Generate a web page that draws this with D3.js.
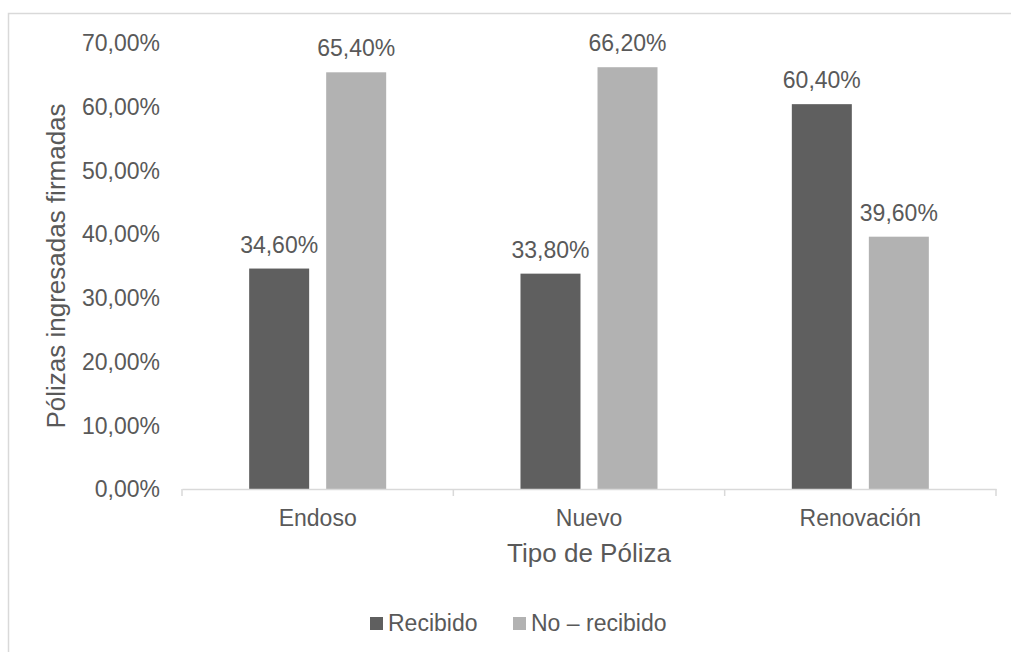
<!DOCTYPE html>
<html>
<head>
<meta charset="utf-8">
<script src="https://cdn.jsdelivr.net/npm/d3@7"></script>
<style>
  body { margin: 0; background: #fff; }
  text { font-family: "Liberation Sans", Arial, sans-serif; fill: #595959; }
</style>
</head>
<body>
<div id="content"></div>
<script>
var width = 1011;
var height = 652;

var categories = ["Endoso", "Nuevo", "Renovación"];
var seriesNames = ["Recibido", "No – recibido"];
var recibido = [34.6, 33.8, 60.4];
var noRecibido = [65.4, 66.2, 39.6];
var yTicks = [0, 10, 20, 30, 40, 50, 60, 70];

var colors = ["#5f5f5f", "#b2b2b2"];

var margin = { top: 43, left: 182, right: 15, bottom: 163 };
var plotW = width - margin.left - margin.right;
var plotH = height - margin.top - margin.bottom;

var svg = d3.select("#content").append("svg").attr("width", width).attr("height", height);

// outer chart border (cut off at right and bottom)
svg.append("rect")
    .attr("x", 8.5).attr("y", 13.5)
    .attr("width", 1100).attr("height", 700)
    .attr("fill", "none")
    .attr("stroke", "#d9d9d9")
    .attr("stroke-width", 1.5);

var g = svg.append("g").attr("transform", `translate(${margin.left}, ${margin.top})`);

var x0 = d3.scaleBand().domain(categories).range([0, plotW]).paddingInner(0).paddingOuter(0);
var x1 = d3.scaleBand().domain(seriesNames).range([0, x0.bandwidth()]).paddingInner(0.221).paddingOuter(0.872);
var y = d3.scaleLinear().domain([0, 70]).range([plotH, 0]);

var fmt = function (d) { return d.toFixed(2).replace(".", ",") + "%"; };

// y tick labels (no axis line)
g.selectAll(".ytick")
    .data(yTicks)
    .enter()
    .append("text")
    .attr("class", "ytick")
    .attr("x", -22)
    .attr("y", d => y(d))
    .attr("dy", "0.36em")
    .style("text-anchor", "end")
    .style("font-size", "23px")
    .text(fmt);

// bars
var rows = categories.map((c, i) => ({ cat: c, values: [recibido[i], noRecibido[i]] }));

var groups = g.selectAll(".grp")
    .data(rows)
    .enter()
    .append("g")
    .attr("transform", d => `translate(${x0(d.cat)}, 0)`);

groups.selectAll("rect")
    .data(d => d.values.map((v, j) => ({ s: seriesNames[j], v: v, j: j })))
    .enter()
    .append("rect")
    .attr("x", d => x1(d.s))
    .attr("y", d => y(d.v))
    .attr("width", x1.bandwidth())
    .attr("height", d => plotH - y(d.v))
    .attr("fill", d => colors[d.j]);

groups.selectAll(".lbl")
    .data(d => d.values.map((v, j) => ({ s: seriesNames[j], v: v, j: j })))
    .enter()
    .append("text")
    .attr("class", "lbl")
    .attr("x", d => x1(d.s) + x1.bandwidth() / 2)
    .attr("y", d => y(d.v) - 16)
    .style("text-anchor", "middle")
    .style("font-size", "23px")
    .text(d => fmt(d.v));

// x axis
var xAxis = g.append("g")
    .attr("transform", `translate(0, ${plotH})`)
    .call(d3.axisBottom(x0).tickSize(0).tickPadding(21).tickSizeOuter(0));
xAxis.select(".domain").attr("stroke", "#d9d9d9").attr("stroke-width", 1.5);
xAxis.selectAll("text")
    .style("font-size", "23px")
    .style("font-family", "'Liberation Sans', Arial, sans-serif")
    .attr("fill", "#595959");

// category separators
g.selectAll(".sep")
    .data(d3.range(categories.length + 1))
    .enter()
    .append("line")
    .attr("x1", d => d * x0.step())
    .attr("x2", d => d * x0.step())
    .attr("y1", plotH)
    .attr("y2", plotH + 7)
    .attr("stroke", "#d9d9d9")
    .attr("stroke-width", 1.5);

// axis titles
g.append("text")
    .attr("x", plotW / 2)
    .attr("y", plotH + 73)
    .style("text-anchor", "middle")
    .style("font-size", "26px")
    .text("Tipo de Póliza");

g.append("text")
    .attr("transform", "rotate(-90)")
    .attr("x", -plotH / 2)
    .attr("y", -117)
    .style("text-anchor", "middle")
    .style("font-size", "26px")
    .text("Pólizas ingresadas firmadas");

// legend
var legend = svg.append("g").attr("transform", "translate(370, 617)");
var legendX = [0, 143];
seriesNames.forEach(function (s, i) {
    legend.append("rect")
        .attr("x", legendX[i]).attr("y", 0)
        .attr("width", 13).attr("height", 13)
        .attr("fill", colors[i]);
    legend.append("text")
        .attr("x", legendX[i] + 18)
        .attr("y", 14)
        .style("font-size", "23px")
        .text(s);
});
</script>
</body>
</html>
